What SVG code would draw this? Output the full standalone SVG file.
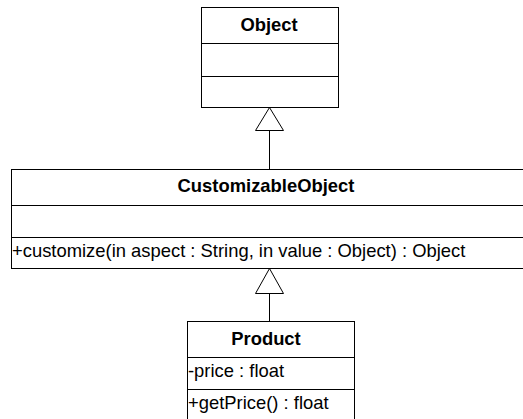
<svg xmlns="http://www.w3.org/2000/svg" width="523" height="419" viewBox="0 0 523 419">
<style>
.box{fill:#fff;stroke:#000;stroke-width:1}
.div{stroke:#000;stroke-width:1}
.t{font-family:"Liberation Sans",Arial,sans-serif;font-size:18.4px;fill:#000}
.b{font-weight:bold;text-anchor:middle}
.c{stroke:#000;stroke-width:1;fill:none}
.tri{fill:#fff;stroke:#000;stroke-width:1}
</style>
<rect width="523" height="419" fill="#fff"/>
<g id="connectors">
<line class="c" x1="269.5" y1="130.5" x2="269.5" y2="169.5"/>
<polygon class="tri" points="269.5,107.5 255.5,130.5 283.5,130.5"/>
<line class="c" x1="269.5" y1="293.5" x2="269.5" y2="321.5"/>
<polygon class="tri" points="269.5,268.5 255.5,293.5 283.5,293.5"/>
</g>
<g id="Object">
<rect class="box" x="201.5" y="7.5" width="137" height="100"/>
<line class="div" x1="201.5" y1="43.5" x2="338.5" y2="43.5"/>
<line class="div" x1="201.5" y1="76.5" x2="338.5" y2="76.5"/>
<text class="t b" x="269" y="30.5">Object</text>
</g>
<g id="CustomizableObject">
<rect class="box" x="11.5" y="169.5" width="520" height="99"/>
<line class="div" x1="11.5" y1="205.5" x2="531.5" y2="205.5"/>
<line class="div" x1="11.5" y1="237.5" x2="531.5" y2="237.5"/>
<text class="t b" x="266" y="192">CustomizableObject</text>
<text class="t" x="12" y="257">+customize(in aspect : String, in value : Object) : Object</text>
</g>
<g id="Product">
<rect class="box" x="187.5" y="321.5" width="167" height="110"/>
<line class="div" x1="187.5" y1="357.5" x2="354.5" y2="357.5"/>
<line class="div" x1="187.5" y1="389.5" x2="354.5" y2="389.5"/>
<text class="t b" x="266" y="344.5">Product</text>
<text class="t" x="188" y="377">-price : float</text>
<text class="t" x="188" y="409">+getPrice() : float</text>
</g>
</svg>
